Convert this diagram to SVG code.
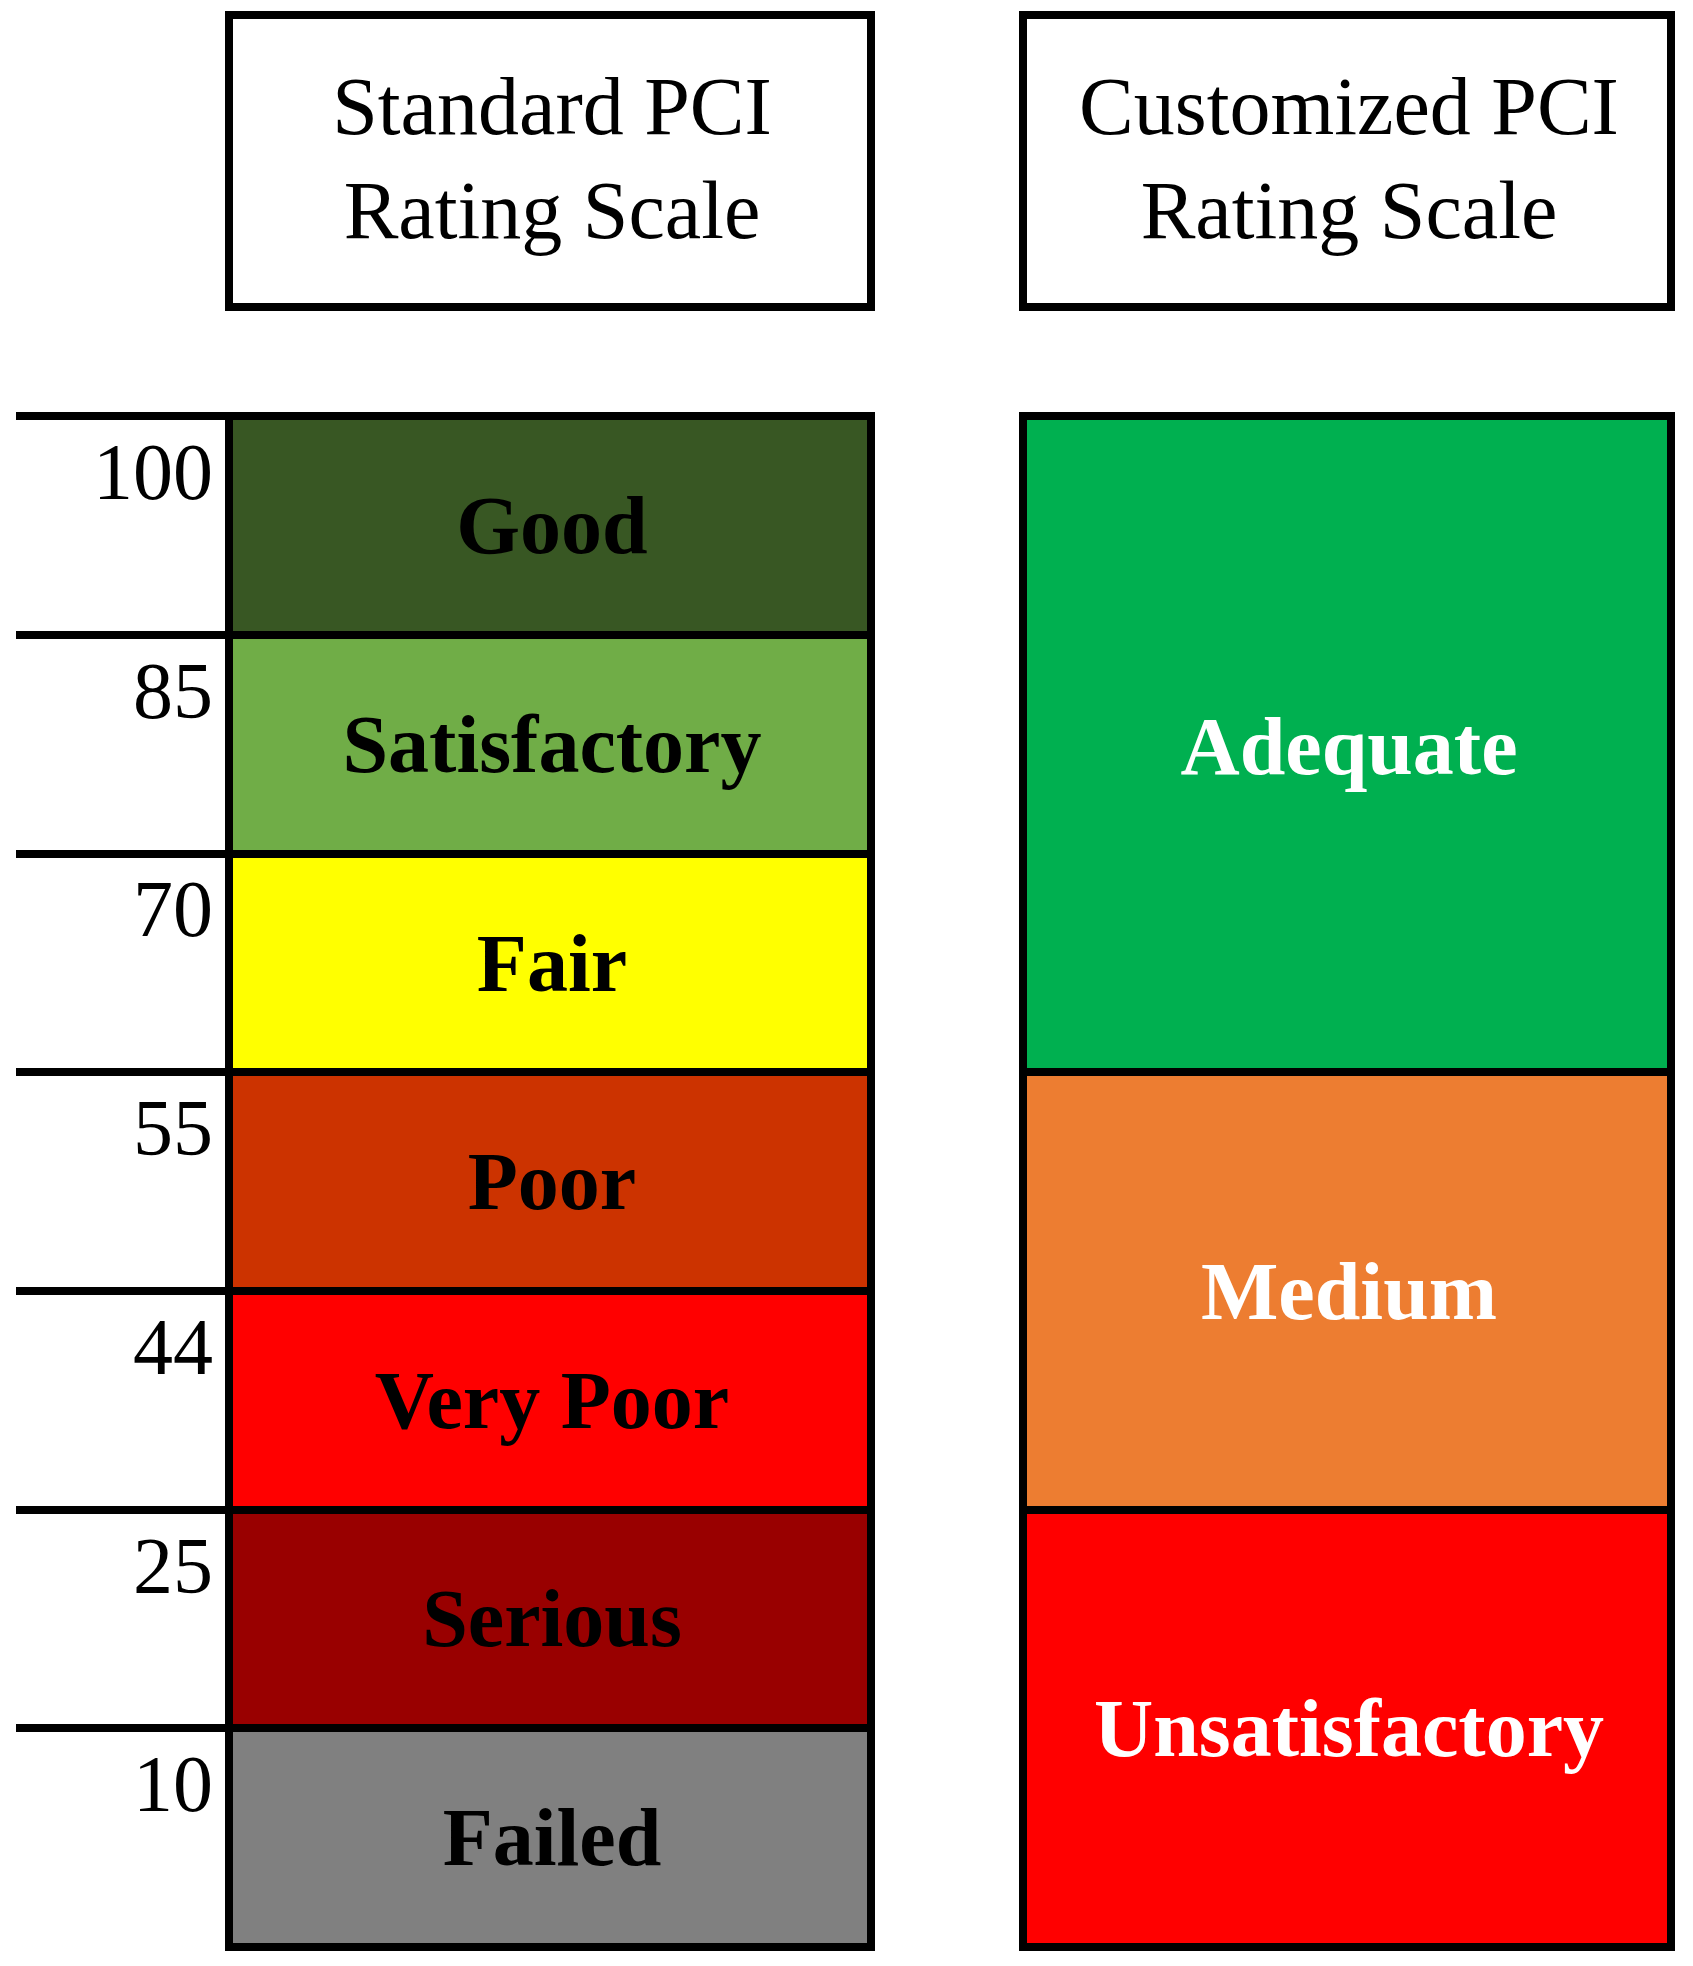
<svg xmlns="http://www.w3.org/2000/svg" width="1693" height="1966" viewBox="0 0 1693 1966">
<style>
.hdr{font-family:"Liberation Serif","Times New Roman",serif;font-size:82px;fill:#000;text-anchor:middle}
.num{font-family:"Liberation Serif","Times New Roman",serif;font-size:80px;fill:#000;text-anchor:end}
.lbl{font-family:"Liberation Serif","Times New Roman",serif;font-size:82px;font-weight:bold;fill:#000;text-anchor:middle}
.wlbl{font-family:"Liberation Serif","Times New Roman",serif;font-size:82px;font-weight:bold;fill:#fff;text-anchor:middle}
.box{stroke:#000;stroke-width:8}
.ln{stroke:#000;stroke-width:8;fill:none}
</style>
<rect width="1693" height="1966" fill="#fff"/>
<g id="header-standard">
<rect class="box" x="229" y="15" width="642" height="292" fill="#fff"/>
<text class="hdr" x="552" y="134">Standard PCI</text>
<text class="hdr" x="552" y="238">Rating Scale</text>
</g>
<g id="header-customized">
<rect class="box" x="1023" y="15" width="648" height="292" fill="#fff"/>
<text class="hdr" x="1349" y="134">Customized PCI</text>
<text class="hdr" x="1349" y="238">Rating Scale</text>
</g>
<g id="good"><rect x="229" y="416" width="642" height="219" fill="#385723"/><text class="lbl" x="552" y="553">Good</text></g>
<g id="satisfactory"><rect x="229" y="635" width="642" height="219" fill="#70AD47"/><text class="lbl" x="552" y="772">Satisfactory</text></g>
<g id="fair"><rect x="229" y="854" width="642" height="218" fill="#FFFF00"/><text class="lbl" x="552" y="991">Fair</text></g>
<g id="poor"><rect x="229" y="1072" width="642" height="219" fill="#CC3300"/><text class="lbl" x="552" y="1209">Poor</text></g>
<g id="very-poor"><rect x="229" y="1291" width="642" height="219" fill="#FF0000"/><text class="lbl" x="552" y="1428">Very Poor</text></g>
<g id="serious"><rect x="229" y="1510" width="642" height="218" fill="#990000"/><text class="lbl" x="552" y="1646">Serious</text></g>
<g id="failed"><rect x="229" y="1728" width="642" height="219" fill="#808080"/><text class="lbl" x="552" y="1865">Failed</text></g>
<g id="adequate"><rect x="1023" y="416" width="648" height="656" fill="#00B050"/><text class="wlbl" x="1349" y="774">Adequate</text></g>
<g id="medium"><rect x="1023" y="1072" width="648" height="438" fill="#ED7D31"/><text class="wlbl" x="1349" y="1319">Medium</text></g>
<g id="unsatisfactory"><rect x="1023" y="1510" width="648" height="437" fill="#FF0000"/><text class="wlbl" x="1349" y="1756">Unsatisfactory</text></g>
<g id="scale-numbers">
<text class="num" x="213" y="499">100</text>
<text class="num" x="213" y="718">85</text>
<text class="num" x="213" y="936">70</text>
<text class="num" x="213" y="1155">55</text>
<text class="num" x="213" y="1374">44</text>
<text class="num" x="213" y="1593">25</text>
<text class="num" x="213" y="1811">10</text>
</g>
<g id="connectors">
<rect class="ln" x="229" y="416" width="642" height="1531"/>
<rect class="ln" x="1023" y="416" width="648" height="1531"/>
<path class="ln" d="M16 416H875M16 635H875M16 854H875M16 1072H875M16 1291H875M16 1510H875M16 1728H875"/>
<path class="ln" d="M1019 1072H1675M1019 1510H1675"/>
</g>
</svg>
